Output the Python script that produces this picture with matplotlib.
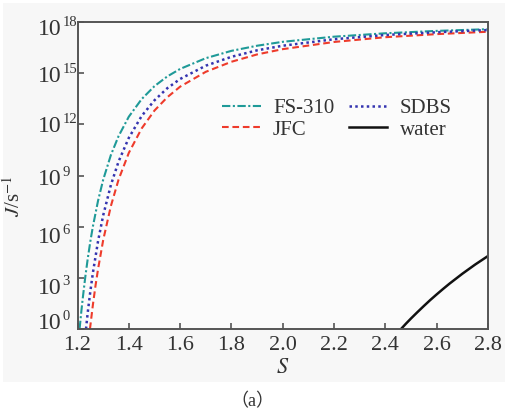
"""
Nucleation rate J versus supersaturation S for the surfactant solutions
(FS-310, JFC, SDBS) and pure water, log scale on J.
"""

import matplotlib
matplotlib.use("Agg")
import matplotlib.pyplot as plt
from matplotlib.patches import Rectangle
from matplotlib.ticker import NullLocator
from matplotlib.transforms import ScaledTranslation, blended_transform_factory

# ----------------------------------------------------------------------
# Data (S, log10 J)
# ----------------------------------------------------------------------
fs310_s = [1.208, 1.215, 1.22, 1.23, 1.24, 1.25, 1.26, 1.28, 1.30, 1.33, 1.36,
           1.40, 1.45, 1.50, 1.55, 1.60, 1.70, 1.80, 1.90, 2.00, 2.20, 2.40,
           2.60, 2.80]
fs310_logj = [0.0, 1.05, 1.75, 3.02, 4.14, 5.14, 6.02, 7.52, 8.75, 10.20, 11.31,
              12.45, 13.48, 14.24, 14.81, 15.25, 15.88, 16.31, 16.61, 16.84,
              17.14, 17.34, 17.48, 17.58]

sdbs_s = [1.233, 1.24, 1.25, 1.26, 1.28, 1.30, 1.33, 1.36, 1.40, 1.45, 1.50,
          1.55, 1.60, 1.70, 1.80, 1.90, 2.00, 2.20, 2.40, 2.60, 2.80]
sdbs_logj = [0.0, 0.99, 2.21, 3.30, 5.15, 6.66, 8.44, 9.82, 11.21, 12.49, 13.41,
             14.12, 14.66, 15.44, 15.96, 16.34, 16.61, 16.99, 17.24, 17.40,
             17.53]

jfc_s = [1.2485, 1.26, 1.27, 1.28, 1.30, 1.33, 1.36, 1.40, 1.45, 1.50, 1.55,
         1.60, 1.70, 1.80, 1.90, 2.00, 2.20, 2.40, 2.60, 2.80]
jfc_logj = [0.0, 1.43, 2.53, 3.51, 5.21, 7.21, 8.76, 10.33, 11.76, 12.81, 13.59,
            14.21, 15.08, 15.67, 16.10, 16.41, 16.83, 17.11, 17.29, 17.43]

water_s = [2.461, 2.48, 2.50, 2.525, 2.55, 2.575, 2.60, 2.625, 2.65, 2.675,
           2.70, 2.725, 2.75, 2.775, 2.80]
water_logj = [0.0, 0.31, 0.62, 0.99, 1.35, 1.70, 2.03, 2.35, 2.66, 2.95,
              3.24, 3.51, 3.78, 4.03, 4.28]

x_ticks = [1.2, 1.4, 1.6, 1.8, 2.0, 2.2, 2.4, 2.6, 2.8]
x_tick_labels = ["1.2", "1.4", "1.6", "1.8", "2.0", "2.2", "2.4", "2.6", "2.8"]
y_tick_exps = [0, 3, 6, 9, 12, 15, 18]
# vertical nudge of each "10^k" label in pixels (positive = down), as drawn
# in the reference
y_label_shift_px = [-7.5, 8.5, 8.5, 2.0, 0.0, 1.5, 5.5]

plt.rcParams["font.family"] = "serif"
plt.rcParams["font.serif"] = ["Liberation Serif"]
plt.rcParams["mathtext.fontset"] = "stix"

AXIS_GREY = "#555555"
TEXT_GREY = "#333333"

fig = plt.figure(figsize=(5.06, 4.17), dpi=100, facecolor="white")
# light grey panel behind the chart (the caption sits below it, on white)
fig.patches.append(Rectangle((3 / 506, 1 - 382 / 417), 502 / 506, 379 / 417,
                             transform=fig.transFigure, facecolor="#f7f7f7",
                             edgecolor="none", zorder=-10))

ax = fig.add_axes([0.1532, 0.2110, 0.8112, 0.7362])
ax.set_facecolor("#fbfbfb")

series = [
    ("FS-310", fs310_s, fs310_logj, "#1f9a98", (0, (4, 1.2, 1, 1.2)), 1.5),
    ("JFC", jfc_s, jfc_logj, "#ee3b2b", (0, (3.2, 1.8)), 1.5),
    ("SDBS", sdbs_s, sdbs_logj, "#3434b0", (0, (1, 1.3)), 1.8),
    ("water", water_s, water_logj, "#111111", "-", 1.8),
]
for label, s, logj, color, ls, lw in series:
    ax.plot(s, [10.0 ** v for v in logj], color=color, linestyle=ls,
            linewidth=lw, label=label)

ax.set_yscale("log")
ax.set_xlim(1.2, 2.8)
ax.set_ylim(1, 1e18)
ax.set_xticks(x_ticks)
ax.set_xticklabels(x_tick_labels)
ax.set_yticks([10.0 ** k for k in y_tick_exps])
ax.yaxis.set_minor_locator(NullLocator())

for spine in ax.spines.values():
    spine.set_color(AXIS_GREY)
    spine.set_linewidth(1.4)
ax.tick_params(direction="in", length=4, width=1.2, color=AXIS_GREY,
               labelsize=16, labelcolor=TEXT_GREY)
ax.tick_params(axis="x", pad=5)
ax.tick_params(axis="y", labelleft=False)

# ------------------------------------------------------------------
# y tick labels: large "10" with a small exponent, drawn as text
# ------------------------------------------------------------------
ylab_trans = blended_transform_factory(ax.transAxes, ax.transData)
x_split = -15.5 / 410.5  # where "10" ends and the exponent starts
for k, dy in zip(y_tick_exps, y_label_shift_px):
    base_off = ScaledTranslation(0, (-dy - 7.5) / 100, fig.dpi_scale_trans)
    exp_off = ScaledTranslation(0.5 / 100, (-dy + 1.5) / 100,
                                fig.dpi_scale_trans)
    ax.text(x_split, 10.0 ** k, "10", transform=ylab_trans + base_off,
            ha="right", va="baseline", fontsize=17, color=TEXT_GREY)
    ax.text(x_split, 10.0 ** k, str(k), transform=ylab_trans + exp_off,
            ha="left", va="baseline", fontsize=10.5, color=TEXT_GREY)

ax.set_xlabel(r"$S$", fontsize=16, color=TEXT_GREY, labelpad=3)
ax.set_ylabel(r"$J$/s$^{-1}$", fontsize=15, color=TEXT_GREY)
ax.yaxis.set_label_coords(-0.128, 0.433)

ax.legend(loc="center", bbox_to_anchor=(0.632, 0.684), ncol=2, frameon=False,
          fontsize=15, handlelength=1.85, handletextpad=0.6,
          columnspacing=0.7, labelspacing=0.1, borderpad=0,
          labelcolor=TEXT_GREY)

fig.text(252 / 506, 1 - 402 / 417, "（a）", ha="center", va="center",
         fontsize=13, color=TEXT_GREY,
         family=["Liberation Serif", "Noto Sans CJK SC"])

fig.savefig("out.png", dpi=100, facecolor=fig.get_facecolor())
plt.close(fig)
